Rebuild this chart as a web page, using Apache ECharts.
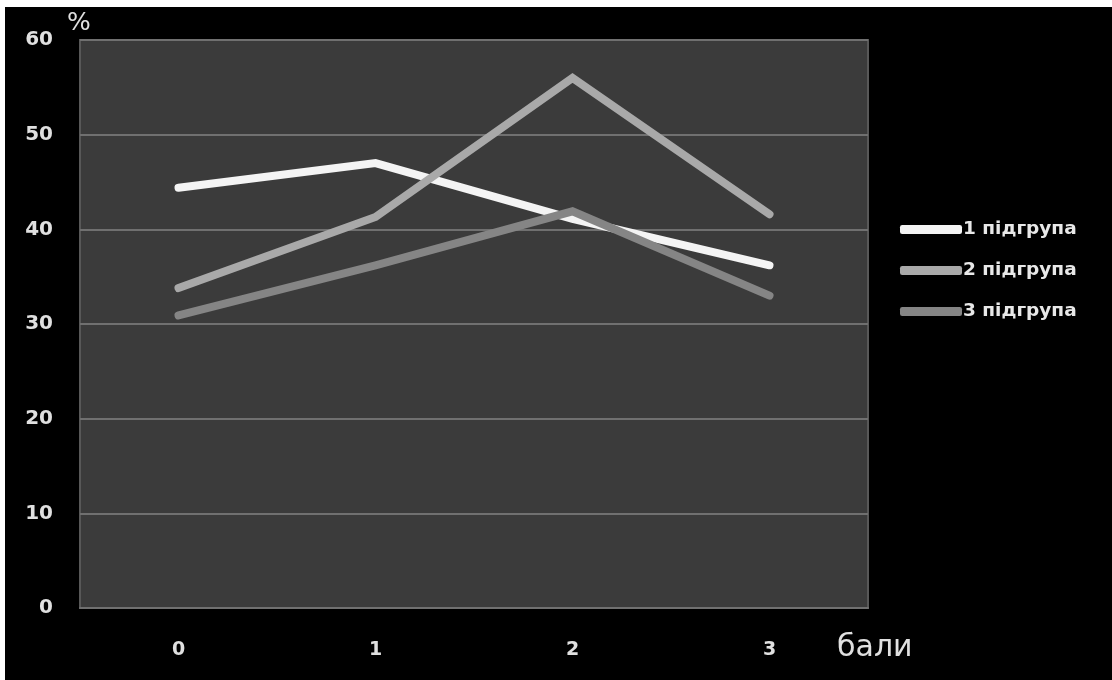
<!DOCTYPE html>
<html>
<head>
<meta charset="utf-8">
<script src="https://cdn.jsdelivr.net/npm/echarts@6/dist/echarts.min.js"></script>
<style>
  html, body { margin: 0; padding: 0; background: #ffffff; }
  #chart { position: absolute; left: 5px; top: 7px; width: 1107px; height: 673px; background: #000; }
</style>
</head>
<body>
<div id="chart"></div>
<script>
// Score categories (бали) and share of pupils (%) per subgroup
const categories = ['0', '1', '2', '3'];
const seriesNames = ['1 підгрупа', '2 підгрупа', '3 підгрупа'];
const group1 = [44.4, 47.0, 41.1, 36.2];
const group2 = [33.8, 41.3, 56.0, 41.6];
const group3 = [30.9, 36.2, 41.9, 33.0];
const yTicks = { min: 0, max: 60, interval: 10 };

const lineColors = ['#f4f4f4', '#a9a9a9', '#858585'];
const font = '"DejaVu Sans", "Open Sans", sans-serif';

const chart = echarts.init(document.getElementById('chart'), null, { renderer: 'canvas' });

function lineSeries(name, data, color) {
  return {
    name: name,
    type: 'line',
    data: data,
    showSymbol: false,
    symbol: 'none',
    lineStyle: { color: color, width: 8, cap: 'round', join: 'miter' },
    itemStyle: { color: color },
    emphasis: { disabled: true },
    animation: false
  };
}

chart.setOption({
  backgroundColor: '#000000',
  animation: false,
  grid: {
    left: 75, top: 33, right: 244, bottom: 72,
    show: true,
    backgroundColor: '#3b3b3b',
    borderColor: '#585858',
    borderWidth: 2
  },
  legend: {
    orient: 'vertical',
    left: 890,
    top: 206,
    icon: 'roundRect',
    itemWidth: 62,
    itemHeight: 9,
    itemGap: 18,
    selectedMode: false,
    textStyle: { color: '#e8e8e8', fontSize: 18.5, fontWeight: 'bold', fontFamily: font, lineHeight: 23, padding: [0, 0, 0, -4] },
    data: seriesNames
  },
  xAxis: {
    type: 'category',
    data: categories,
    boundaryGap: true,
    axisLine: { show: true, lineStyle: { color: '#707070', width: 2 } },
    axisTick: { show: false },
    axisLabel: { color: '#e0e0e0', fontSize: 19, fontWeight: 'bold', fontFamily: font, margin: 33 },
    splitLine: { show: false }
  },
  yAxis: {
    type: 'value',
    min: yTicks.min,
    max: yTicks.max,
    interval: yTicks.interval,
    axisLine: { show: false },
    axisTick: { show: false },
    axisLabel: { color: '#e0e0e0', fontSize: 20, fontWeight: 'bold', fontFamily: font, margin: 27 },
    splitLine: { show: true, lineStyle: { color: '#707070', width: 2 } }
  },
  graphic: [
    { type: 'text', left: 62, top: 4, style: { text: '%', fill: '#e0e0e0', font: '25px ' + font } },
    { type: 'text', left: 832, top: 626, style: { text: 'бали', fill: '#e0e0e0', font: '30px ' + font } }
  ],
  series: [
    lineSeries(seriesNames[0], group1, lineColors[0]),
    lineSeries(seriesNames[1], group2, lineColors[1]),
    lineSeries(seriesNames[2], group3, lineColors[2])
  ]
});
</script>
</body>
</html>
